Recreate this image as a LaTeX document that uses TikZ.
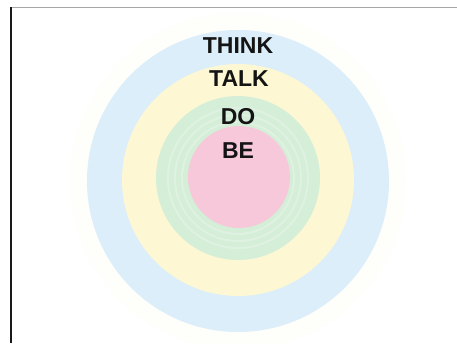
\documentclass[tikz,border=0pt]{standalone}
\usepackage{fontspec}
\setmainfont{Liberation Sans}
\usetikzlibrary{positioning}
\definecolor{haze}{HTML}{FEFEFA}
\definecolor{thinkblue}{HTML}{DCEEFA}
\definecolor{talkyellow}{HTML}{FDF8D3}
\definecolor{dogreen}{HTML}{D5EED8}
\definecolor{bepink}{HTML}{F6C8D9}
\definecolor{ink}{HTML}{141414}
\tikzset{
  ring/.style={draw=none},
  word/.style={anchor=base,text=ink,font=\fontsize{23}{26}\selectfont\bfseries,inner sep=0pt}
}

\begin{document}
\begin{tikzpicture}[x=1pt,y=-1pt]
\useasboundingbox (0,0) rectangle (457,343);
\fill[white] (0,0) rectangle (457,343);
% frame
\draw[gray!70,line width=1pt] (11,7) -- (457,7);
\draw[black!90,line width=1.2pt] (11,7) -- (11,343);
% circles
\coordinate (c) at (238,181);
\fill[haze] (c) circle (168);
\fill[thinkblue] (c) circle (151);
\fill[talkyellow] (238,180) circle (116);
\fill[dogreen] (238,178) circle (82);
\foreach \r in {56,63,70}
  \draw[white,opacity=.25,line width=2pt] (238,178) circle (\r);
\fill[bepink] (239,177) circle (51);
% words
\node[word] (think) at (238,53) {THINK};
\node[word] (talk) at (239,86) {TALK};
\node[word] (do) at (238,124) {DO};
\node[word] (be) at (238,158) {BE};
\end{tikzpicture}
\end{document}
